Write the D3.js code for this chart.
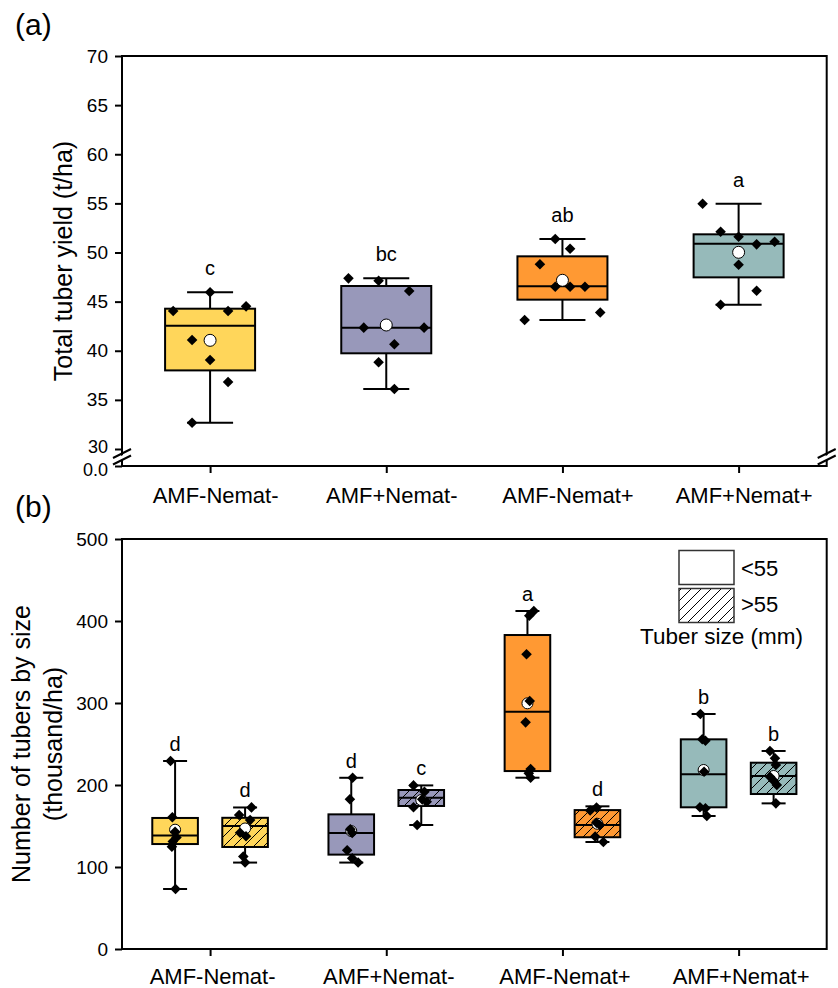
<!DOCTYPE html>
<html>
<head>
<meta charset="UTF-8">
<style>
    body { margin: 0; background: #fff; }
    svg { display: block; font-family: "Liberation Sans", Arial, sans-serif; }
</style>
</head>
<body>
<svg></svg>
<script src="https://d3js.org/d3.v7.min.js"></script>
<script>

    // ---- data ----
    const treatments = ["AMF-Nemat-", "AMF+Nemat-", "AMF-Nemat+", "AMF+Nemat+"];
    const treatmentColors = ["#FFD65A", "#9898BA", "#FF9933", "#96BABA"];

    // (a) total tuber yield (t/ha); box = [whisker low, q1, median, q3, whisker high]
    const yieldTicks = [0, 30, 35, 40, 45, 50, 55, 60, 65, 70];
    const yieldBoxes = [
        [32.68, 38.0, 42.55, 44.28, 45.95],
        [36.1, 39.74, 42.35, 46.59, 47.37],
        [43.13, 45.2, 46.56, 49.61, 51.37],
        [44.69, 47.47, 50.9, 51.85, 54.97]
    ];
    const yieldMeans = [41.06, 42.62, 47.17, 50.02];
    const yieldLetters = ["c", "bc", "ab", "a"];
    const yieldPoints = [
        [44.05, 45.95, 44.05, 44.52, 41.09, 39.06, 36.82, 32.68],
        [47.37, 47.13, 46.08, 42.35, 42.35, 40.66, 38.83, 36.1],
        [51.37, 50.39, 48.8, 46.52, 46.52, 46.52, 43.13, 43.9],
        [54.97, 52.12, 51.61, 50.83, 51.1, 48.76, 46.1, 44.69]
    ];
    // horizontal spread of the dots, as a share of the box width
    const yieldJitter = [
        [-0.41, 0, 0.2, 0.4, -0.2, 0, 0.2, -0.2],
        [-0.42, -0.085, 0.255, -0.25, 0.42, 0.09, -0.085, 0.09],
        [-0.08, 0.085, -0.25, -0.08, 0.085, 0.25, -0.42, 0.42],
        [-0.4, -0.2, 0, 0.2, 0.4, 0, 0.2, -0.2]
    ];

    // (b) number of tubers by size (thousand/ha), [treatment][size class]
    const sizeClasses = ["<55", ">55"];
    const countTicks = [0, 100, 200, 300, 400, 500];
    const countBoxes = [
        [[73.2, 128, 138.5, 159.8, 229.3], [105.4, 124.4, 150, 160, 172.6]],
        [[105.4, 115.1, 141.6, 164.2, 208.8], [151.2, 174.4, 184.5, 193.9, 199.5]],
        [[208.9, 217, 289.4, 382.9, 412.2], [130.5, 136.3, 151.3, 169.4, 174]],
        [[162.2, 172.8, 213, 255.7, 286.6], [177.6, 189, 211, 227.2, 241.5]]
    ];
    const countMeans = [[145.5, 147], [143.8, 181.7], [299.6, 152.7], [218.3, 211]];
    const countLetters = [["d", "d"], ["d", "c"], ["a", "d"], ["b", "b"]];
    const countPoints = [
        [[229.3, 160.6, 143, 136, 131, 124.8, 73.2], [172.7, 163.5, 157.2, 141.7, 137.5, 112.8, 105.4]],
        [[208.8, 182.7, 146, 141.6, 120.4, 110.7, 105.4], [199.5, 191.8, 182.5, 172.8, 151.2, 179.6]],
        [[412.2, 406.5, 359.4, 302.4, 276.4, 219.5, 214.2, 208.9], [172.6, 169, 153.9, 151.3, 137.2, 130.5]],
        [[286.6, 255.7, 254, 216.2, 172.8, 171.6, 162.2], [241.5, 232.6, 224.4, 210.1, 205.3, 200, 177.6]]
    ];
    const countJitter = [
        [[-0.1, -0.06, 0, 0.03, -0.05, -0.07, 0.01], [0.14, -0.13, 0.11, -0.11, 0.02, -0.04, 0]],
        [[0.03, -0.03, -0.02, 0.02, -0.09, 0.02, 0.15], [-0.17, 0.07, 0.02, -0.17, -0.09, 0.12]],
        [[0.14, 0.04, -0.02, 0.05, -0.04, 0.07, 0.03, 0.07], [-0.02, -0.16, -0.02, 0.05, -0.05, 0.13]],
        [[-0.07, -0.03, 0.04, 0.01, -0.08, 0.04, 0.07], [-0.08, 0.03, 0.05, -0.08, 0, 0.07, 0.05]]
    ];

    // ---- layout ----
    let width = 838, height = 988;
    let left = 122, right = 826.7;

    let svg = d3.select("svg")
        .attr("width", width)
        .attr("height", height)
        .attr("viewBox", "0 0 " + width + " " + height);

    let defs = svg.append("defs");

    // hatch pattern for the >55 boxes (one per colour) and the legend
    function addHatch(id, bg) {
        let p = defs.append("pattern")
            .attr("id", id)
            .attr("patternUnits", "userSpaceOnUse")
            .attr("width", 10)
            .attr("height", 10);
        p.append("rect").attr("width", 10).attr("height", 10).attr("fill", bg);
        p.append("path")
            .attr("d", "M-2,2L2,-2M0,10L10,0M8,12L12,8")
            .attr("stroke", "#000")
            .attr("stroke-width", 1);
    }
    treatmentColors.forEach((c, i) => addHatch("hatch" + i, c));
    addHatch("hatchWhite", "#fff");

    let x = d3.scalePoint()
        .domain(treatments)
        .range([left, right])
        .padding(0.5);

    let diamond = d3.symbol().type(d3.symbolSquare).size(56);

    // draw one box with whiskers, mean and dots
    function drawBox(g, cx, y, box, mean, pts, jit, letter, fill, boxW, capW, r, letterGap) {
        let [lo, q1, med, q3, hi] = box;
        let b = g.append("g");
        b.append("line")
            .attr("x1", cx).attr("x2", cx)
            .attr("y1", y(hi)).attr("y2", y(lo))
            .attr("stroke", "#000").attr("stroke-width", 2);
        [lo, hi].forEach(v => {
            b.append("line")
                .attr("x1", cx - capW).attr("x2", cx + capW)
                .attr("y1", y(v)).attr("y2", y(v))
                .attr("stroke", "#000").attr("stroke-width", 2);
        });
        b.append("rect")
            .attr("x", cx - boxW / 2)
            .attr("y", y(q3))
            .attr("width", boxW)
            .attr("height", y(q1) - y(q3))
            .attr("fill", fill)
            .attr("stroke", "#000")
            .attr("stroke-width", 2);
        b.append("line")
            .attr("x1", cx - boxW / 2).attr("x2", cx + boxW / 2)
            .attr("y1", y(med)).attr("y2", y(med))
            .attr("stroke", "#000").attr("stroke-width", 2);
        b.append("circle")
            .attr("cx", cx)
            .attr("cy", y(mean))
            .attr("r", r)
            .attr("fill", "#fff")
            .attr("stroke", "#000")
            .attr("stroke-width", 1);
        b.selectAll("path.pt")
            .data(pts)
            .enter()
            .append("path")
            .attr("class", "pt")
            .attr("d", diamond)
            .attr("transform", (d, i) => "translate(" + (cx + jit[i] * boxW) + "," + y(d) + ") rotate(45)")
            .attr("fill", "#000");
        b.append("text")
            .attr("x", cx)
            .attr("y", y(Math.max(hi, d3.max(pts))) - letterGap)
            .attr("text-anchor", "middle")
            .attr("font-size", 20)
            .text(letter);
    }

    function drawFrame(g, top, bottom) {
        g.append("rect")
            .attr("x", left)
            .attr("y", top)
            .attr("width", right - left)
            .attr("height", bottom - top)
            .attr("fill", "none")
            .attr("stroke", "#000")
            .attr("stroke-width", 2);
    }

    function styleAxis(ax, size) {
        ax.select(".domain").remove();
        ax.attr("font-family", null).attr("font-size", size);
        ax.selectAll(".tick line").attr("stroke-width", 2);
        ax.selectAll(".tick text").attr("fill", "#000");
    }

    // ================= panel (a) =================
    let ga = svg.append("g");
    let ya = d3.scaleLinear()
        .domain([0, 30, 70])
        .range([466, 449, 56]);

    treatments.forEach((t, i) => {
        drawBox(ga, x(t), ya, yieldBoxes[i], yieldMeans[i], yieldPoints[i], yieldJitter[i],
            yieldLetters[i], treatmentColors[i], 90, 23, 6, 17);
    });

    drawFrame(ga, 56, 466);

    let axA = ga.append("g")
        .attr("transform", "translate(" + left + ",0)")
        .call(d3.axisLeft(ya).tickValues(yieldTicks).tickSize(7).tickPadding(7)
            .tickFormat(d => d === 0 ? "0.0" : d));
    styleAxis(axA, 19);
    // the two labels around the break sit very close; pull them apart a little
    axA.selectAll(".tick text")
        .attr("font-size", d => d <= 30 ? 18 : null)
        .attr("dy", d => d === 0 ? "0.5em" : d === 30 ? "0.2em" : "0.32em");

    let axAx = ga.append("g")
        .attr("transform", "translate(0,466)")
        .call(d3.axisBottom(x).tickSize(7).tickPadding(14));
    styleAxis(axAx, 22);
    axAx.selectAll(".tick text").attr("dx", 5);

    // axis break marks
    [left, right].forEach(bx => {
        ga.append("polygon")
            .attr("points", [[bx - 4, 457.5], [bx + 4, 453.5], [bx + 4, 457.5], [bx - 4, 461.5]].join(" "))
            .attr("fill", "#fff");
        [453.5, 460].forEach(by => {
            ga.append("line")
                .attr("x1", bx - 9).attr("y1", by + 4.5)
                .attr("x2", bx + 9).attr("y2", by - 4.5)
                .attr("stroke", "#000")
                .attr("stroke-width", 2);
        });
    });

    ga.append("text")
        .attr("transform", "translate(72,261) rotate(-90)")
        .attr("text-anchor", "middle")
        .attr("font-size", 25)
        .text("Total tuber yield (t/ha)");

    svg.append("text")
        .attr("x", 15)
        .attr("y", 35)
        .attr("font-size", 30)
        .text("(a)");

    // ================= panel (b) =================
    let gb = svg.append("g");
    let yb = d3.scaleLinear()
        .domain([0, 500])
        .range([949, 539]);

    let sub = d3.scaleBand()
        .domain(sizeClasses)
        .range([-70, 70]);

    treatments.forEach((t, i) => {
        sizeClasses.forEach((s, j) => {
            let fill = j === 0 ? treatmentColors[i] : "url(#hatch" + i + ")";
            drawBox(gb, x(t) + sub(s) + sub.bandwidth() / 2, yb, countBoxes[i][j], countMeans[i][j],
                countPoints[i][j], countJitter[i][j], countLetters[i][j], fill, 45.6, 12, 5.5, 10);
        });
    });

    drawFrame(gb, 539, 949);

    let axB = gb.append("g")
        .attr("transform", "translate(" + left + ",0)")
        .call(d3.axisLeft(yb).tickValues(countTicks).tickSize(7).tickPadding(7));
    styleAxis(axB, 19);

    let axBx = gb.append("g")
        .attr("transform", "translate(0,949)")
        .call(d3.axisBottom(x).tickSize(7).tickPadding(12));
    styleAxis(axBx, 22);
    axBx.selectAll(".tick text").attr("dx", 2);

    gb.append("text")
        .attr("transform", "translate(30,744) rotate(-90)")
        .attr("text-anchor", "middle")
        .attr("font-size", 25)
        .text("Number of tubers by size");
    gb.append("text")
        .attr("transform", "translate(62,744) rotate(-90)")
        .attr("text-anchor", "middle")
        .attr("font-size", 25)
        .text("(thousand/ha)");

    svg.append("text")
        .attr("x", 15)
        .attr("y", 517)
        .attr("font-size", 30)
        .text("(b)");

    // legend
    let legend = gb.append("g");
    ["#fff", "url(#hatchWhite)"].forEach((f, i) => {
        legend.append("rect")
            .attr("x", 679)
            .attr("y", 550.5 + i * 38)
            .attr("width", 55)
            .attr("height", 34)
            .attr("fill", f)
            .attr("stroke", "#333")
            .attr("stroke-width", 1.5);
        legend.append("text")
            .attr("x", 741)
            .attr("y", 576 + i * 36)
            .attr("font-size", 22)
            .text(sizeClasses[i]);
    });
    legend.append("text")
        .attr("x", 721.5)
        .attr("y", 644)
        .attr("text-anchor", "middle")
        .attr("font-size", 22.5)
        .text("Tuber size (mm)");

</script>
</body>
</html>
